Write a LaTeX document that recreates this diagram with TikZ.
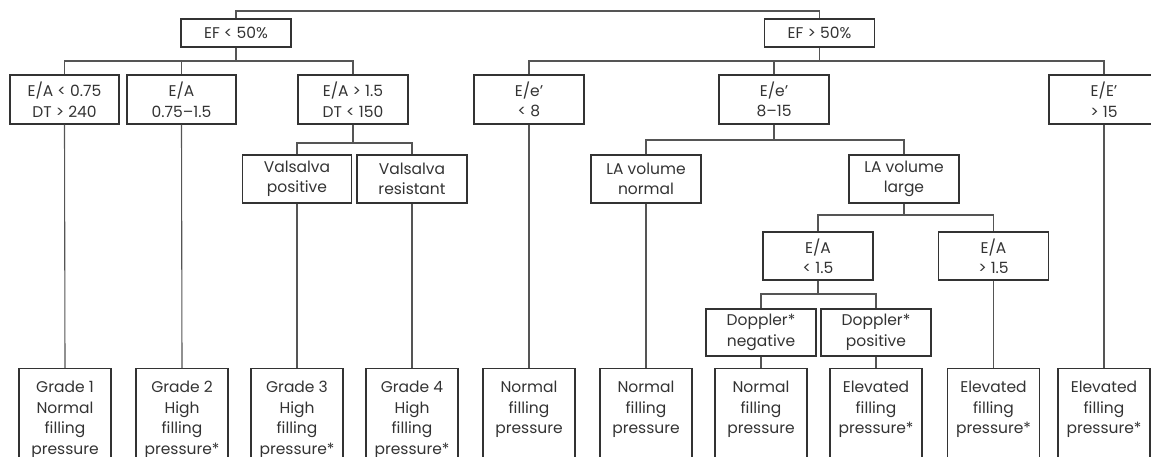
\documentclass[tikz,border=0pt]{standalone}
\usepackage{fontspec}
\setmainfont{Poppins}
\definecolor{ink}{HTML}{333333}
\definecolor{wire}{HTML}{555555}
\newcommand{\leaftext}[1]{\begin{tabular}[t]{@{}c@{}}#1\end{tabular}}
\begin{document}
\begin{tikzpicture}[x=1pt,y=-1pt,
  every node/.style={font=\fontsize{15.5}{20.5}\selectfont, text=ink},
  box/.style={draw=ink, line width=1.4pt, inner sep=0pt, align=center, minimum height=48pt, minimum width=110pt},
  smallbox/.style={box, minimum height=28pt},
  leaf/.style={draw=ink, line width=1.4pt, inner sep=0pt, anchor=north, minimum width=92pt, text height=24pt, text depth=100pt},
  conn/.style={draw=wire, line width=1.1pt}]
\useasboundingbox (0,0) rectangle (1151,457);
\clip (0,0) rectangle (1151,457);
% bus levels
\coordinate (ytop) at (0,11);
\coordinate (ya) at (0,61);
\coordinate (yv) at (0,143);
\coordinate (yl) at (0,140);
\coordinate (yc) at (0,215);
\coordinate (yd) at (0,294);
% level 1
\node[smallbox] (ef1) at (236,33) {EF < 50\%};
\node[smallbox] (ef2) at (819.5,33) {EF > 50\%};
% level 2
\node[box, minimum height=49pt, minimum width=109pt] (a1) at (64.5,99.5) {E/A < 0.75\\DT > 240};
\node[box, minimum height=49pt, minimum width=109pt] (a2) at (181.5,99.5) {E/A\\0.75–1.5};
\node[box, minimum height=49pt] (a3) at (353,99.5) {E/A > 1.5\\DT < 150};
\node[box, minimum height=49pt] (b1) at (529,99.5) {E/e’\\< 8};
\node[box, minimum height=49pt] (b2) at (774,99.5) {E/e’\\8–15};
\node[box, minimum height=49pt] (b3) at (1104,99.5) {E/E’\\> 15};
% level 3
\node[box, minimum width=109pt] (v1) at (297,179) {Valsalva\\positive};
\node[box] (v2) at (412,179) {Valsalva\\resistant};
\node[box] (la1) at (646,179) {LA volume\\normal};
\node[box] (la2) at (904,179) {LA volume\\large};
% level 4
\node[box] (c1) at (818,256) {E/A\\< 1.5};
\node[box] (c2) at (993.5,256) {E/A\\> 1.5};
% level 5
\node[box, minimum height=47pt] (d1) at (761,332.5) {Doppler*\\negative};
\node[box, minimum height=47pt] (d2) at (876,332.5) {Doppler*\\positive};
% leaves
\node[leaf] (g1) at (65,368) {\leaftext{Grade 1\\Normal\\filling\\pressure}};
\node[leaf] (g2) at (182,368) {\leaftext{Grade 2\\High\\filling\\pressure*}};
\node[leaf] (g3) at (297,368) {\leaftext{Grade 3\\High\\filling\\pressure*}};
\node[leaf] (g4) at (412,368) {\leaftext{Grade 4\\High\\filling\\pressure*}};
\node[leaf] (n1) at (529,368) {\leaftext{Normal\\filling\\pressure}};
\node[leaf] (n2) at (646,368) {\leaftext{Normal\\filling\\pressure}};
\node[leaf] (n3) at (761,368) {\leaftext{Normal\\filling\\pressure}};
\node[leaf] (e1) at (876,368) {\leaftext{Elevated\\filling\\pressure*}};
\node[leaf] (e2) at (993.5,368) {\leaftext{Elevated\\filling\\pressure*}};
\node[leaf] (e3) at (1104,368) {\leaftext{Elevated\\filling\\pressure*}};
% connectors
\draw[conn] (ef1.north) |- (ef2.north |- ytop) -- (ef2.north);
\draw[conn] (ef1.south) -- (ef1.south |- ya);
\draw[conn] (a1.north) |- (a3.north |- ya) -- (a3.north);
\draw[conn] (a2.north) -- (a2.north |- ya);
\draw[conn] (ef2.south) -- (ef2.south |- ya);
\draw[conn] (b1.north) |- (b3.north |- ya) -- (b3.north);
\draw[conn] (b2.north) -- (b2.north |- ya);
\draw[conn] (a3.south) -- (a3.south |- yv);
\draw[conn] (v1.north) |- (v2.north |- yv) -- (v2.north);
\draw[conn] (b2.south) -- (b2.south |- yl);
\draw[conn] (la1.north) |- (la2.north |- yl) -- (la2.north);
\draw[conn] (la2.south) -- (la2.south |- yc);
\draw[conn] (c1.north) |- (c2.north |- yc) -- (c2.north);
\draw[conn] (c1.south) -- (c1.south |- yd);
\draw[conn] (d1.north) |- (d2.north |- yd) -- (d2.north);
\draw[conn] (a1.south) -- (g1.north);
\draw[conn] (a2.south) -- (g2.north);
\draw[conn] (v1.south) -- (g3.north);
\draw[conn] (v2.south) -- (g4.north);
\draw[conn] (b1.south) -- (n1.north);
\draw[conn] (la1.south) -- (n2.north);
\draw[conn] (d1.south) -- (n3.north);
\draw[conn] (d2.south) -- (e1.north);
\draw[conn] (c2.south) -- (e2.north);
\draw[conn] (b3.south) -- (e3.north);
\end{tikzpicture}
\end{document}
